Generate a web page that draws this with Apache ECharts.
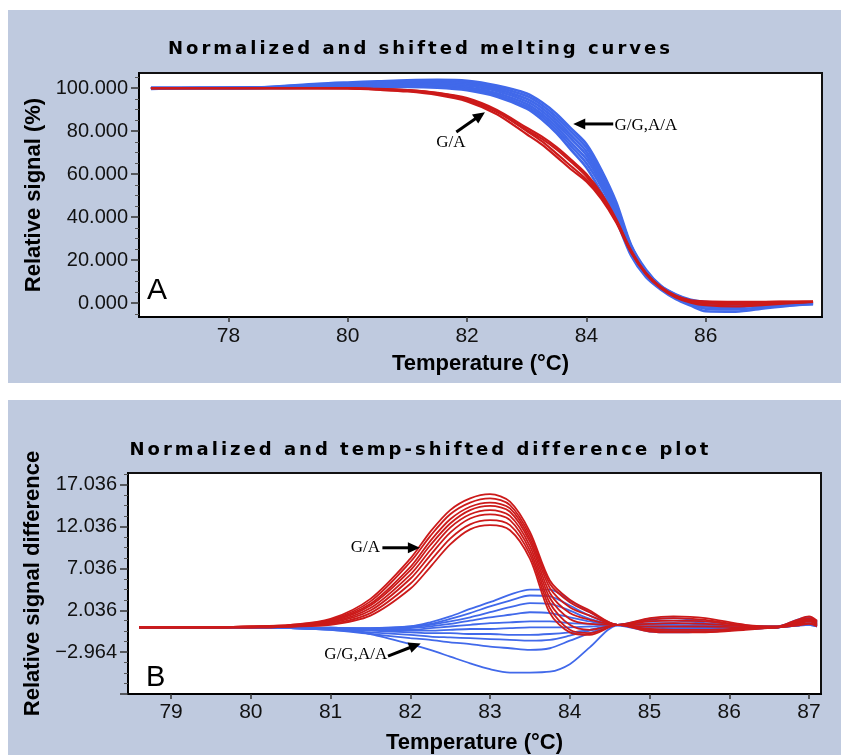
<!DOCTYPE html>
<html><head><meta charset="utf-8">
<script src="https://cdn.jsdelivr.net/npm/echarts@6/dist/echarts.min.js"></script>
<style>html,body{margin:0;padding:0;background:#fff}#c{width:841px;height:755px}</style>
</head><body><div id="c"></div>
<script>
// ---------- Panel A: normalized and shifted melting curves ----------
const tempA = [76.7, 77.5, 78.5, 79.5, 80, 80.5, 81, 81.5, 82, 82.5, 83, 83.25, 83.5, 83.75, 84, 84.25, 84.5, 84.75, 85, 85.25, 85.5, 85.75, 86, 86.5, 87, 87.5, 87.8];
const blueCurvesA = [
  [100, 100, 100.3, 102.0, 102.6, 103.1, 103.6, 103.8, 103.4, 101.2, 97.5, 93.5, 88.0, 81.0, 74.0, 62.0, 47.0, 27.0, 15.5, 8.0, 4.0, 1.5, 0.5, 0.2, 0, 0, 0],
  [100, 100, 100.3, 101.6, 102.2, 102.7, 103.1, 103.2, 102.7, 100.4, 96.3, 92.2, 86.5, 79.5, 72.3, 60.5, 45.5, 26.5, 15.0, 7.8, 3.8, 1.2, 0.2, 0, 0, 0, 0],
  [100, 100, 100.2, 101.2, 101.7, 102.2, 102.6, 102.6, 102.0, 99.5, 95.0, 90.8, 85.0, 77.8, 70.5, 59.0, 44.0, 26.0, 14.5, 7.5, 3.4, 0.8, -0.3, -0.6, -0.3, 0, 0],
  [100, 100, 100.1, 100.9, 101.3, 101.7, 102.0, 102.0, 101.2, 98.6, 93.8, 89.4, 83.5, 76.2, 68.8, 57.4, 42.8, 25.2, 14.0, 7.2, 3.0, 0.4, -0.9, -1.2, -0.8, -0.3, 0],
  [100, 100, 100.1, 100.6, 100.9, 101.2, 101.4, 101.3, 100.4, 97.6, 92.6, 88.0, 82.0, 74.4, 67.0, 55.8, 41.6, 24.4, 13.5, 6.9, 2.6, 0, -1.6, -1.8, -1.2, -0.5, -0.2],
  [99.7, 100, 100, 100.3, 100.5, 100.7, 100.9, 100.7, 99.7, 96.8, 91.5, 86.8, 80.5, 72.8, 65.0, 54.0, 40.0, 23.2, 12.8, 6.6, 2.2, -0.5, -2.6, -2.9, -1.9, -0.9, -0.4],
  [99.6, 100, 100, 100, 100, 100.3, 100.5, 100.2, 99.0, 96.0, 90.5, 85.5, 79.0, 71.0, 63.0, 51.6, 38.5, 22.0, 12.0, 6.2, 1.8, -1.2, -3.8, -4.0, -2.4, -1.0, -0.5]
];
const redCurvesA = [
  [100, 100, 100, 100, 100, 99.6, 99.1, 97.8, 95.3, 89.8, 81.5, 77.5, 72.5, 66.5, 60.0, 51.0, 39.0, 24.5, 14.0, 7.5, 3.4, 1.3, 0.8, 0.6, 0.6, 0.7, 0.7],
  [100, 100, 100, 100, 99.9, 99.4, 98.8, 97.3, 94.5, 88.8, 80.5, 76.5, 71.5, 65.5, 59.0, 50.0, 38.5, 24.0, 13.7, 7.2, 3.1, 1.0, 0.4, 0.3, 0.4, 0.6, 0.7],
  [100, 100, 100, 100, 99.8, 99.2, 98.4, 96.8, 93.8, 87.8, 78.5, 73.8, 68.0, 62.0, 56.5, 48.5, 37.5, 23.5, 13.4, 6.8, 2.6, 0.2, -1.0, -1.6, -0.9, 0, 0.5],
  [100, 100, 100, 100, 99.9, 99.5, 99.0, 97.6, 94.9, 89.2, 80.0, 75.3, 69.5, 63.5, 57.5, 49.5, 38.0, 23.8, 13.6, 7.0, 2.9, 0.6, -0.2, -0.5, -0.2, 0.3, 0.6]
];
const xTicksA = [78, 80, 82, 84, 86];
const yTicksA = [0, 20, 40, 60, 80, 100];
const yMinorA = [-5, 5, 10, 15, 25, 30, 35, 45, 50, 55, 65, 70, 75, 85, 90, 95, 105];

// ---------- Panel B: normalized and temp-shifted difference plot ----------
const tempB = [78.6, 79.5, 80, 80.5, 81, 81.5, 82, 82.25, 82.5, 82.75, 83, 83.25, 83.5, 83.75, 84, 84.25, 84.6, 85, 85.3, 85.7, 86.2, 86.6, 86.85, 87, 87.1];
const blueCurvesB = [
  [0, 0, 0, -0.1, -0.1, -0.1, 0.1, 0.6, 1.3, 2.2, 3.0, 3.9, 4.5, 4.5, 3.2, 1.8, 0.3, 1.0, 1.1, 0.7, 0.2, 0.1, 0.9, 1.2, 0.7],
  [0, 0, 0, -0.1, -0.1, -0.1, 0.1, 0.4, 1.0, 1.7, 2.5, 3.2, 3.8, 3.7, 2.6, 1.4, 0.3, 0.8, 0.8, 0.5, 0.1, 0.1, 0.7, 1.0, 0.6],
  [0, 0, 0, -0.1, -0.1, -0.2, 0.0, 0.3, 0.7, 1.2, 1.8, 2.4, 2.9, 2.8, 2.0, 1.0, 0.3, 0.5, 0.5, 0.3, 0.1, 0.0, 0.6, 0.9, 0.5],
  [0, 0, 0, -0.1, -0.1, -0.2, -0.1, 0.1, 0.4, 0.8, 1.2, 1.5, 1.8, 1.7, 1.2, 0.7, 0.3, 0.3, 0.3, 0.2, 0.0, 0.0, 0.5, 0.8, 0.4],
  [0, 0, 0, -0.1, -0.2, -0.3, -0.3, -0.1, 0.1, 0.3, 0.5, 0.6, 0.7, 0.7, 0.5, 0.4, 0.3, 0.1, 0.1, 0.0, 0.0, 0.0, 0.4, 0.7, 0.3],
  [0, 0, 0, -0.1, -0.2, -0.3, -0.4, -0.4, -0.3, -0.2, -0.2, -0.1, 0.0, 0.0, 0.0, 0.1, 0.3, 0.0, -0.1, -0.1, 0.0, 0.0, 0.3, 0.5, 0.2],
  [0, 0, 0, -0.1, -0.2, -0.4, -0.6, -0.7, -0.7, -0.8, -0.8, -0.9, -0.9, -0.8, -0.6, -0.3, 0.3, -0.2, -0.3, -0.3, -0.1, 0.0, 0.3, 0.4, 0.2],
  [0, 0, 0, -0.1, -0.3, -0.6, -0.9, -1.1, -1.2, -1.3, -1.4, -1.5, -1.6, -1.5, -1.0, -0.4, 0.3, -0.3, -0.4, -0.4, -0.2, 0.0, 0.2, 0.4, 0.1],
  [0, 0, 0, -0.1, -0.3, -0.8, -1.3, -1.5, -1.8, -2.0, -2.3, -2.5, -2.7, -2.5, -1.6, -0.7, 0.3, -0.4, -0.5, -0.5, -0.2, 0.0, 0.2, 0.3, 0.1],
  [0, 0, 0, -0.1, 0.0, -0.8, -2.0, -2.7, -3.5, -4.3, -5.0, -5.4, -5.4, -5.3, -4.4, -2.4, 0.2, -0.5, -0.6, -0.5, -0.2, 0.0, 0.2, 0.3, 0.1]
];
const redCurvesB = [
  [0, 0, 0.1, 0.3, 1.0, 3.4, 8.2, 11.4, 14.0, 15.4, 15.9, 15.0, 11.4, 5.6, 3.3, 2.0, 0.3, 1.1, 1.3, 1.1, 0.3, 0.1, 0.9, 1.3, 0.8],
  [0, 0, 0.1, 0.3, 0.9, 3.1, 7.8, 10.9, 13.5, 14.9, 15.4, 14.6, 11.0, 5.2, 3.0, 1.8, 0.3, 0.9, 1.1, 0.9, 0.2, 0.1, 0.8, 1.1, 0.7],
  [0, 0, 0.1, 0.2, 0.8, 2.8, 7.2, 10.3, 12.9, 14.4, 14.9, 14.2, 10.6, 4.7, 2.4, 1.4, 0.3, 0.7, 0.8, 0.7, 0.2, 0.0, 0.7, 1.0, 0.6],
  [0, 0, 0.0, 0.2, 0.7, 2.6, 6.8, 9.8, 12.4, 14.0, 14.5, 13.8, 10.2, 4.1, 1.7, 0.9, 0.3, 0.4, 0.5, 0.4, 0.1, 0.0, 0.6, 0.9, 0.5],
  [0, 0, 0.0, 0.2, 0.6, 2.3, 6.3, 9.2, 11.9, 13.5, 14.0, 13.3, 9.7, 3.5, 1.0, 0.4, 0.3, 0.1, 0.1, 0.1, 0.0, 0.0, 0.5, 0.8, 0.4],
  [0, 0, 0.0, 0.1, 0.5, 2.0, 5.8, 8.6, 11.3, 13.0, 13.5, 12.8, 9.2, 2.9, 0.3, -0.3, 0.3, -0.2, -0.3, -0.3, -0.1, 0.0, 0.4, 0.7, 0.3],
  [0, 0, 0.0, 0.1, 0.4, 1.7, 5.2, 7.9, 10.6, 12.3, 12.8, 12.2, 8.7, 2.3, -0.3, -0.7, 0.3, -0.4, -0.5, -0.5, -0.2, 0.0, 0.3, 0.5, 0.2],
  [0, 0, 0.0, 0.1, 0.3, 1.4, 4.6, 7.2, 9.9, 11.7, 12.2, 11.6, 8.2, 1.7, -0.6, -0.9, 0.3, -0.5, -0.6, -0.6, -0.3, 0.0, 0.2, 0.4, 0.1]
];
const xTicksB = [79, 80, 81, 82, 83, 84, 85, 86, 87];
const yTicksB = [-2.964, 2.036, 7.036, 12.036, 17.036];
const yMajorB = [-7.964, -2.964, 2.036, 7.036, 12.036, 17.036];

// annotations (data coordinates)
const annotA = [
  {text: 'G/A', at: [81.73, 74.6], align: 'center', from: [81.82, 79.6], to: [82.30, 88.8]},
  {text: 'G/G,A/A', at: [84.47, 82.6], align: 'left', from: [84.45, 83.3], to: [83.78, 83.3]}
];
const annotB = [
  {text: 'G/A', at: [81.62, 9.5], align: 'right', from: [81.65, 9.5], to: [82.12, 9.5]},
  {text: 'G/G,A/A', at: [81.71, -3.3], align: 'right', from: [81.72, -3.43], to: [82.13, -1.92]}
];

// ---------- title letter spacing (canvas text state only) ----------
(function () {
  const P = CanvasRenderingContext2D.prototype;
  const orig = P.fillText;
  P.fillText = function (t, x, y, m) {
    if ('letterSpacing' in this) {
      this.letterSpacing = (/DejaVu Sans/.test(this.font) && /bold|700/.test(this.font)) ? '3px' : '0px';
    }
    return m === undefined ? orig.call(this, t, x, y) : orig.call(this, t, x, y, m);
  };
})();

// ---------- chart ----------
const RED = '#cc1a1a', BLUE = '#4169ea';
const NUMFONT = "'Liberation Sans', Arial, sans-serif";
const NAMEFONT = "'Liberation Sans Narrow', 'Liberation Sans', Arial, sans-serif";
const yMinorB = [];
yMajorB.forEach(function (m) { for (let k = 1; k <= 3; k++) { const v = +(m + k * 1.25).toFixed(3); if (v < 18.43) yMinorB.push(v); } });

const chart = echarts.init(document.getElementById('c'), null, {renderer: 'canvas', width: 841, height: 755});

function curve(temps, vals, color, width, axisIdx, yIdx) {
  return {
    type: 'line', xAxisIndex: axisIdx, yAxisIndex: yIdx,
    data: temps.map(function (t, i) { return [t, vals[i]]; }),
    showSymbol: false, symbol: 'none', smooth: 0.3, silent: true, animation: false,
    lineStyle: {color: color, width: width}
  };
}
const series = [];
blueCurvesA.forEach(function (c) { series.push(curve(tempA, c, BLUE, 2.6, 0, 0)); });
redCurvesA.forEach(function (c) { series.push(curve(tempA, c, RED, 2.2, 0, 0)); });
blueCurvesB.forEach(function (c) { series.push(curve(tempB, c, BLUE, 1.8, 1, 2)); });
redCurvesB.forEach(function (c) { series.push(curve(tempB, c, RED, 1.8, 1, 2)); });

const nameStyle = {fontFamily: NAMEFONT, fontWeight: 'bold', fontSize: 22, color: '#000'};
const lineStyleAx = {show: true, onZero: false, lineStyle: {color: '#000', width: 2}};
function fmt3(v) { return (v < 0 ? '\u2212' : '') + Math.abs(v).toFixed(3); }
const titleStyle = {fontFamily: "'DejaVu Sans', sans-serif", fontWeight: 'bold', fontSize: 18, color: '#000'};

const option = {
  animation: false,
  backgroundColor: '#fff',
  title: [
    {text: 'Normalized and shifted melting curves', left: 'center', top: 35, textStyle: titleStyle},
    {text: 'Normalized and temp-shifted difference plot', left: 'center', top: 436, textStyle: titleStyle}
  ],
  grid: [
    {left: 139, top: 73, width: 683, height: 244, show: true, backgroundColor: '#fff', borderColor: '#111', borderWidth: 2, containLabel: false},
    {left: 128, top: 473, width: 693, height: 227, show: true, backgroundColor: '#fff', borderColor: '#111', borderWidth: 2, containLabel: false}
  ],
  xAxis: [
    {type: 'value', gridIndex: 0, min: 76.5, max: 87.95,
     name: 'Temperature (\u00b0C)', nameLocation: 'middle', nameGap: 36, nameTextStyle: nameStyle,
     axisLine: lineStyleAx, splitLine: {show: false},
     axisTick: {show: true, length: 5, customValues: xTicksA, lineStyle: {color: '#333', width: 1.5}},
     axisLabel: {customValues: xTicksA, margin: 9, fontFamily: NUMFONT, fontSize: 21, color: '#111', formatter: function (v) { return String(v); }}},
    {type: 'value', gridIndex: 1, min: 78.46, max: 87.15,
     name: 'Temperature (\u00b0C)', nameLocation: 'middle', nameGap: 38, nameTextStyle: nameStyle,
     axisLine: lineStyleAx, splitLine: {show: false},
     axisTick: {show: true, length: 5, customValues: xTicksB, lineStyle: {color: '#333', width: 1.5}},
     axisLabel: {customValues: xTicksB, margin: 8, fontFamily: NUMFONT, fontSize: 21, color: '#111', formatter: function (v) { return String(v); }}}
  ],
  yAxis: [
    {type: 'value', gridIndex: 0, min: -6.5, max: 107,
     name: 'Relative signal (%)', nameLocation: 'middle', nameGap: 84, nameRotate: 90, nameTextStyle: nameStyle,
     axisLine: lineStyleAx, splitLine: {show: false},
     axisTick: {show: true, length: 8, customValues: yTicksA, lineStyle: {color: '#333', width: 1.5}},
     axisLabel: {customValues: yTicksA, margin: 11, fontFamily: NUMFONT, fontSize: 20, color: '#111', formatter: fmt3}},
    {type: 'value', gridIndex: 0, min: -6.5, max: 107, position: 'left',
     axisLine: {show: false, onZero: false}, splitLine: {show: false}, axisLabel: {show: false},
     axisTick: {show: true, length: 4, customValues: yMinorA, lineStyle: {color: '#555', width: 1}}},
    {type: 'value', gridIndex: 1, min: -7.964, max: 18.43,
     name: 'Relative signal difference', nameLocation: 'middle', nameGap: 76, nameRotate: 90, nameTextStyle: nameStyle,
     axisLine: lineStyleAx, splitLine: {show: false},
     axisTick: {show: true, length: 8, customValues: yMajorB, lineStyle: {color: '#333', width: 1.5}},
     axisLabel: {customValues: yTicksB, margin: 11, fontFamily: NUMFONT, fontSize: 20, color: '#111', formatter: fmt3}},
    {type: 'value', gridIndex: 1, min: -7.964, max: 18.43, position: 'left',
     axisLine: {show: false, onZero: false}, splitLine: {show: false}, axisLabel: {show: false},
     axisTick: {show: true, length: 4, customValues: yMinorB, lineStyle: {color: '#555', width: 1}}}
  ],
  series: series
};
chart.setOption(option);

// ---------- graphic: panel backgrounds, panel letters, annotations ----------
function arrowEls(gridIndex, a) {
  const p0 = chart.convertToPixel({gridIndex: gridIndex}, a.from);
  const p1 = chart.convertToPixel({gridIndex: gridIndex}, a.to);
  const dx = p1[0] - p0[0], dy = p1[1] - p0[1];
  const len = Math.sqrt(dx * dx + dy * dy), ux = dx / len, uy = dy / len;
  const L = 12, W = 5.5;
  const bx = p1[0] - ux * L, by = p1[1] - uy * L;
  const tp = chart.convertToPixel({gridIndex: gridIndex}, a.at);
  return [
    {type: 'line', z: 100, shape: {x1: p0[0], y1: p0[1], x2: bx + ux * 2, y2: by + uy * 2}, style: {stroke: '#000', lineWidth: 3}},
    {type: 'polygon', z: 100, shape: {points: [[p1[0], p1[1]], [bx - uy * W, by + ux * W], [bx + uy * W, by - ux * W]]}, style: {fill: '#000'}},
    {type: 'text', z: 100, x: tp[0], y: tp[1], style: {text: a.text, fill: '#000', font: "17px 'Liberation Serif', 'Times New Roman', serif", align: a.align, verticalAlign: 'middle'}}
  ];
}
let gEls = [
  {type: 'rect', z: -10, silent: true, shape: {x: 8, y: 10, width: 833, height: 373}, style: {fill: '#bfcadf'}},
  {type: 'rect', z: -10, silent: true, shape: {x: 8, y: 400, width: 833, height: 355}, style: {fill: '#bfcadf'}},
  {type: 'text', z: 100, x: 147, y: 276, style: {text: 'A', fill: '#000', font: "30px 'Liberation Sans', Arial, sans-serif"}},
  {type: 'text', z: 100, x: 146, y: 663, style: {text: 'B', fill: '#000', font: "29px 'Liberation Sans', Arial, sans-serif"}}
];
annotA.forEach(function (a) { gEls = gEls.concat(arrowEls(0, a)); });
annotB.forEach(function (a) { gEls = gEls.concat(arrowEls(1, a)); });
chart.setOption({graphic: {elements: gEls}});
</script></body></html>
